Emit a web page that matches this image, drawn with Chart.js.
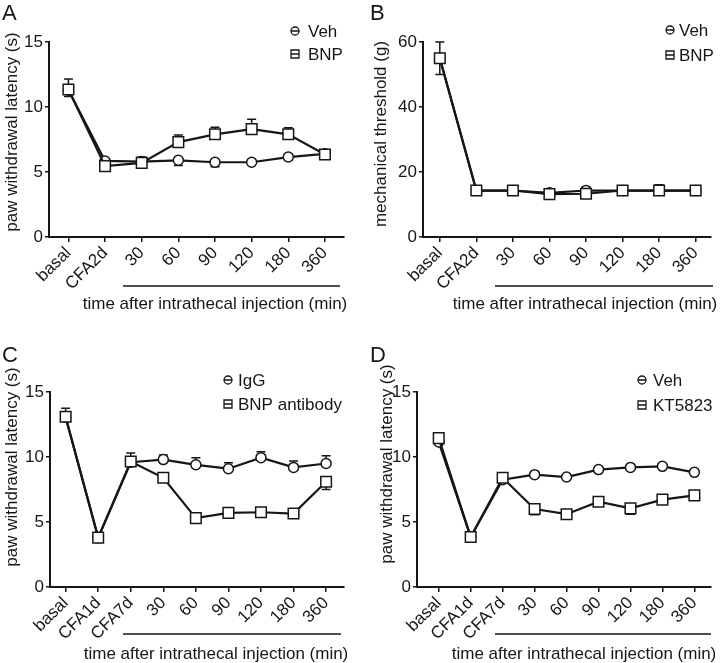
<!DOCTYPE html>
<html>
<head>
<meta charset="utf-8">
<script src="https://cdn.jsdelivr.net/npm/chart.js@4.4.1/dist/chart.umd.min.js"></script>
<style>
  html, body { margin: 0; background: #fff; }
  #fig { position: relative; width: 720px; height: 663px; overflow: hidden; }
  #fig canvas { position: absolute; }
</style>
</head>
<body>
<div id="fig">
  <canvas id="cA" width="360" height="330" style="left:0;top:0"></canvas>
  <canvas id="cB" width="360" height="330" style="left:360px;top:0"></canvas>
  <canvas id="cC" width="360" height="333" style="left:0;top:330px"></canvas>
  <canvas id="cD" width="360" height="333" style="left:360px;top:330px"></canvas>
</div>
<script>
/* ── data ── */
const catsAB = ['basal', 'CFA2d', '30', '60', '90', '120', '180', '360'];
const catsCD = ['basal', 'CFA1d', 'CFA7d', '30', '60', '90', '120', '180', '360'];
const X_TITLE = 'time after intrathecal injection (min)';

// A: paw withdrawal latency (s)
const vehA    = [11.3, 5.85, 5.8, 5.9, 5.75, 5.75, 6.15, 6.4];
const vehAErr = [0.5, 0.2, 0.4, 0.4, 0.35, 0.15, 0.25, 0.2];
const bnpA    = [11.35, 5.45, 5.7, 7.3, 7.9, 8.3, 7.9, 6.35];
const bnpAErr = [0.8, 0.2, 0.45, 0.55, 0.55, 0.75, 0.5, 0.2];

// B: mechanical threshold (g)
const vehB    = [55, 14.3, 14.3, 13.6, 14.3, 14.3, 14.3, 14.3];
const vehBErr = [5, 1.4, 1.4, 1.4, 1.4, 1.4, 1.4, 1.4];
const bnpB    = [55, 14.3, 14.3, 13.2, 13.3, 14.3, 14.3, 14.3];
const bnpBErr = [5, 1.4, 1.4, 1.5, 2.2, 1.4, 1.8, 1.4];

// C: IgG vs BNP antibody
const iggC     = [13.05, 3.8, 9.6, 9.8, 9.4, 9.1, 9.95, 9.2, 9.5];
const iggCErr  = [0.7, 0.2, 0.7, 0.35, 0.55, 0.45, 0.45, 0.5, 0.6];
const abC      = [13.1, 3.8, 9.65, 8.4, 5.3, 5.7, 5.75, 5.65, 8.1];
const abCErr   = [0.35, 0.2, 0.2, 0.15, 0.15, 0.15, 0.2, 0.15, 0.6];

// D: Veh vs KT5823
const vehD    = [11.15, 3.85, 8.25, 8.64, 8.46, 9.03, 9.2, 9.28, 8.82];
const vehDErr = [0.25, 0.15, 0.15, 0.15, 0.15, 0.15, 0.15, 0.15, 0.2];
const ktD     = [11.45, 3.85, 8.4, 6.0, 5.6, 6.56, 6.05, 6.72, 7.05];
const ktDErr  = [0.2, 0.15, 0.2, 0.45, 0.15, 0.3, 0.45, 0.15, 0.25];

/* ── style ── */
const INK  = '#161616';
const FONT = '"Liberation Sans", Arial, Helvetica, sans-serif';
Chart.defaults.font.family = FONT;
Chart.defaults.font.size = 17;
Chart.defaults.color = INK;

const pts = arr => arr.map((v, i) => ({ x: i, y: v }));

function circleSet(label, vals, err, dir) {
  return { label, data: pts(vals), err, errDir: dir, order: 2,
    borderColor: INK, borderWidth: 2.2, pointStyle: 'circle', pointRadius: 5,
    pointBorderWidth: 1.5, pointBackgroundColor: '#fff', pointBorderColor: INK, tension: 0 };
}
function squareSet(label, vals, err, dir) {
  return { label, data: pts(vals), err, errDir: dir, order: 1,
    borderColor: INK, borderWidth: 2.2, pointStyle: 'rect', pointRadius: 7.5,
    pointBorderWidth: 1.5, pointBackgroundColor: '#fff', pointBorderColor: INK, tension: 0 };
}

function drawErrors(chart) {
  const ctx = chart.ctx, ys = chart.scales.y;
  ctx.save();
  ctx.strokeStyle = INK;
  ctx.lineWidth = 1.5;
  chart.data.datasets.forEach((ds, i) => {
    chart.getDatasetMeta(i).data.forEach((el, j) => {
      const e = ds.err[j];
      if (!e) return;
      const yEnd = ys.getPixelForValue(ds.data[j].y + ds.errDir * e);
      ctx.beginPath();
      ctx.moveTo(el.x, el.y); ctx.lineTo(el.x, yEnd);
      ctx.moveTo(el.x - 4.5, yEnd); ctx.lineTo(el.x + 4.5, yEnd);
      ctx.stroke();
    });
  });
  ctx.restore();
}

function legendSymbol(ctx, style, x, y) {
  ctx.save();
  ctx.lineWidth = 1.3;
  ctx.beginPath();
  if (style === 'circle') {
    ctx.arc(x, y, 4, 0, Math.PI * 2);
    ctx.moveTo(x - 4, y); ctx.lineTo(x + 4, y);
  } else {
    ctx.rect(x - 4, y - 4, 8, 8);
    ctx.moveTo(x - 4, y); ctx.lineTo(x + 4, y);
  }
  ctx.stroke();
  ctx.restore();
}

function decoPlugin(L) {
  return {
    id: 'deco',
    beforeDatasetsDraw(chart) { drawErrors(chart); },
    afterDraw(chart) {
      const ctx = chart.ctx;
      ctx.save();
      ctx.fillStyle = INK; ctx.strokeStyle = INK;

      ctx.font = `22px ${FONT}`;
      ctx.textAlign = 'left'; ctx.textBaseline = 'alphabetic';
      ctx.fillText(L.letter, L.letterX, L.letterY);

      ctx.font = `17px ${FONT}`;
      ctx.save();
      ctx.translate(L.yTitleX, L.yTitleY);
      ctx.rotate(-Math.PI / 2);
      ctx.textAlign = 'center'; ctx.textBaseline = 'middle';
      ctx.fillText(L.yTitle, 0, 0);
      ctx.restore();

      ctx.lineWidth = 1.5;
      ctx.beginPath();
      ctx.moveTo(L.brX0, L.brY); ctx.lineTo(L.brX1, L.brY);
      ctx.stroke();

      ctx.textAlign = 'center'; ctx.textBaseline = 'alphabetic';
      ctx.fillText(X_TITLE, L.xTitleX, L.xTitleY);

      chart.data.datasets.forEach((ds, i) => {
        const ly = L.legY + i * L.legGap;
        legendSymbol(ctx, ds.pointStyle, L.legX, ly);
        ctx.textAlign = 'left'; ctx.textBaseline = 'middle';
        ctx.fillText(ds.label, L.legTextX, ly + 1);
      });
      ctx.restore();
    }
  };
}

function makePanel(id, cats, datasets, L) {
  new Chart(document.getElementById(id), {
    type: 'line',
    data: { datasets },
    options: {
      responsive: false,
      animation: false,
      layout: { padding: { top: L.top, left: 0, right: L.padRight, bottom: 0 } },
      plugins: { legend: { display: false }, tooltip: { enabled: false } },
      scales: {
        x: {
          type: 'linear', min: L.xMin, max: L.xMax,
          afterBuildTicks: s => { s.ticks = cats.map((_, i) => ({ value: i })); },
          afterFit: s => { s.height = L.xHeight; },
          ticks: { callback: v => cats[v], minRotation: 45, maxRotation: 45, autoSkip: false, padding: 1 },
          grid: { drawOnChartArea: false, tickLength: 5, color: INK, lineWidth: 1.5 },
          border: { color: INK, width: 2 }
        },
        y: {
          min: 0, max: L.yMax,
          afterFit: s => { s.width = L.yWidth; },
          ticks: { stepSize: L.yStep, padding: 2 },
          grid: { drawOnChartArea: false, tickLength: 4, color: INK, lineWidth: 1.5 },
          border: { color: INK, width: 2 }
        }
      }
    },
    plugins: [decoPlugin(L)]
  });
}

makePanel('cA', catsAB,
  [circleSet('Veh', vehA, vehAErr, -1), squareSet('BNP', bnpA, bnpAErr, 1)],
  { letter: 'A', letterX: 2, letterY: 20, top: 42, padRight: 16, xHeight: 93, yWidth: 49,
    xMin: -0.53, xMax: 7.52, yMax: 15, yStep: 5,
    yTitle: 'paw withdrawal latency (s)', yTitleX: 12, yTitleY: 132,
    brX0: 123, brX1: 340, brY: 286, xTitleX: 215, xTitleY: 309,
    legX: 295, legY: 31, legGap: 23, legTextX: 308 });

makePanel('cB', catsAB,
  [circleSet('Veh', vehB, vehBErr, -1), squareSet('BNP', bnpB, bnpBErr, 1)],
  { letter: 'B', letterX: 10, letterY: 20, top: 42, padRight: 7, xHeight: 93, yWidth: 63,
    xMin: -0.46, xMax: 7.42, yMax: 60, yStep: 20,
    yTitle: 'mechanical threshold (g)', yTitleX: 21, yTitleY: 134,
    brX0: 135, brX1: 353, brY: 286, xTitleX: 225, xTitleY: 309,
    legX: 310, legY: 30, legGap: 25, legTextX: 319 });

makePanel('cC', catsCD,
  [circleSet('IgG', iggC, iggCErr, 1), squareSet('BNP antibody', abC, abCErr, -1)],
  { letter: 'C', letterX: 2, letterY: 32, top: 62, padRight: 16, xHeight: 76, yWidth: 50,
    xMin: -0.48, xMax: 8.55, yMax: 15, yStep: 5,
    yTitle: 'paw withdrawal latency (s)', yTitleX: 12, yTitleY: 137,
    brX0: 123, brX1: 341, brY: 304, xTitleX: 216, xTitleY: 329,
    legX: 228, legY: 50, legGap: 24, legTextX: 238 });

makePanel('cD', catsCD,
  [circleSet('Veh', vehD, vehDErr, 1), squareSet('KT5823', ktD, ktDErr, -1)],
  { letter: 'D', letterX: 10, letterY: 32, top: 62, padRight: 4, xHeight: 76, yWidth: 57,
    xMin: -0.68, xMax: 8.52, yMax: 15, yStep: 5,
    yTitle: 'paw withdrawal latency (s)', yTitleX: 27, yTitleY: 134,
    brX0: 135, brX1: 351, brY: 304, xTitleX: 224, xTitleY: 329,
    legX: 282, legY: 50, legGap: 25, legTextX: 293 });
</script>
</body>
</html>
